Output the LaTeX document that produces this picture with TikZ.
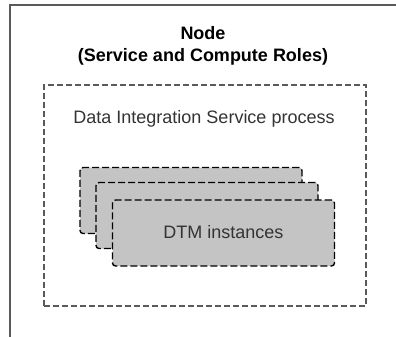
\documentclass[tikz,border=0pt]{standalone}
\usepackage{fontspec}
\setmainfont{Liberation Sans}
\usepackage{tikz}
\usetikzlibrary{positioning}
\definecolor{dtmgray}{HTML}{C4C4C4}
\definecolor{framegray}{HTML}{5A5A5A}
\definecolor{textgray}{HTML}{333333}
\tikzstyle{title} = [align=center, font=\fontsize{18}{22}\selectfont\bfseries, text=black]
\tikzstyle{process} = [rectangle, minimum width=322pt, minimum height=221pt, draw=framegray, line width=1.2pt, dashed, dash pattern=on 6pt off 3pt]
\tikzstyle{label} = [font=\fontsize{18}{22}\selectfont, text=textgray]
\tikzstyle{dtm} = [rectangle, rounded corners=3pt, minimum width=222pt, minimum height=66pt, draw=black, line width=1.4pt, dash pattern=on 7pt off 3pt, fill=dtmgray, font=\fontsize{18}{22}\selectfont, text=textgray]
\tikzstyle{frame} = [line width=1.8pt, draw=framegray]

\begin{document}
\begin{tikzpicture}[x=1pt, y=-1pt, node distance=16pt]
\useasboundingbox (0,0) rectangle (396,337);
\coordinate (topright) at (397,5);
\coordinate (corner) at (10,5);
\coordinate (bottomleft) at (10,338);
\draw[frame] (topright) -- (corner) -- (bottomleft);

\node (title) [title] at (203,46) {Node\\(Service and Compute Roles)};
\node (proc) [process] at (205,195.5) {};
\node (proclabel) [label] at (204,119) {Data Integration Service process};
\node (dtm1) [dtm] at (191,200.5) {};
\node (dtm2) [dtm, right of=dtm1, yshift=-15pt] {};
\node (dtm3) [dtm, right of=dtm2, xshift=0.5pt, yshift=-17.5pt, text depth=3pt] {DTM instances};
\end{tikzpicture}
\end{document}
